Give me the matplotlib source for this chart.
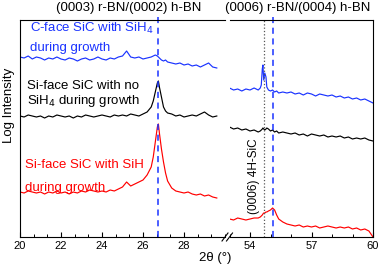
import matplotlib.pyplot as plt
import numpy as np
from matplotlib.ticker import MultipleLocator
from matplotlib.lines import Line2D

plt.rcParams['font.family'] = ['Liberation Sans', 'DejaVu Sans']

# --- data (log intensity, arbitrary units) ---
x_left = [20.0, 20.2, 20.4, 20.6, 20.8, 21.0, 21.2, 21.4, 21.6, 21.8,
          22.0, 22.2, 22.4, 22.6, 22.8, 23.0, 23.2, 23.4, 23.6, 23.8,
          24.0, 24.2, 24.4, 24.6, 24.8, 25.0, 25.2, 25.4, 25.6, 25.8, 26.0,
          26.2, 26.4, 26.5, 26.6, 26.7, 26.75, 26.8, 26.9, 27.0, 27.1, 27.2, 27.4, 27.6,
          27.8, 28.0, 28.2, 28.4, 28.6, 28.8, 29.0, 29.2, 29.4, 29.6]

blue_left = [180, 179, 181, 178, 180, 179, 177, 179, 178, 180,
             178, 177, 179, 178, 176, 178, 179, 177, 178, 180,
             178, 177, 179, 178, 180, 181, 186, 180, 179, 180, 178,
             179, 180, 181, 182, 181, 180, 179, 177, 176, 177, 175, 174, 173,
             174, 172, 173, 171, 172, 170, 172, 174, 170, 169]

black_left = [121, 120, 122, 121, 120, 121, 119, 121, 120, 122,
              121, 120, 121, 119, 121, 120, 122, 121, 120, 121,
              122, 121, 120, 122, 121, 122, 121, 123, 122, 121, 123,
              125, 130, 136, 145, 154, 156, 150, 140, 130, 126, 124, 123, 121,
              122, 120, 121, 122, 121, 123, 125, 122, 120, 121]

red_left = [45, 44, 46, 45, 44, 45, 43, 45, 44, 46,
            44, 45, 43, 45, 44, 46, 45, 47, 46, 45,
            46, 45, 47, 46, 48, 50, 55, 51, 53, 55, 57,
            62, 70, 80, 95, 110, 113, 104, 88, 75, 64, 56, 49, 46,
            45, 44, 45, 43, 42, 43, 41, 42, 40, 39]

x_right = [53.0, 53.2, 53.4, 53.6, 53.8, 54.0, 54.2, 54.4,
           54.5, 54.55, 54.6, 54.63, 54.67, 54.72, 54.78, 54.82, 54.9, 55.0,
           55.1, 55.2, 55.3, 55.4, 55.6,
           55.8, 56.0, 56.2, 56.4, 56.6, 56.8, 57.0, 57.2, 57.4, 57.6, 57.8,
           58.0, 58.2, 58.4, 58.6, 58.8, 59.0, 59.2, 59.4, 59.6, 59.8, 60.0]

blue_right = [149, 147, 148, 146, 148, 147, 149, 147,
              149, 152, 168, 172, 157, 164, 160, 150, 147, 146,
              147, 145, 146, 144, 145,
              144, 145, 143, 144, 142, 144, 143, 141, 143, 142, 141,
              142, 140, 141, 139, 140, 138, 139, 137, 138, 136, 134]

black_right = [110, 108, 109, 107, 108, 106, 107, 105,
               106, 107, 108, 109, 108, 107, 108, 109, 108, 106,
               107, 105, 106, 104, 105,
               104, 103, 104, 102, 103, 101, 103, 102, 101, 102, 100,
               101, 100, 101, 99, 100, 98, 99, 98, 99, 97, 96]

red_right = [18, 17, 19, 18, 17, 18, 19, 19,
             20, 21, 22, 23, 24, 24, 25, 25, 26, 27,
             29, 27, 22, 18, 15,
             13, 12, 11, 12, 10, 11, 10, 11, 9, 10, 11,
             10, 9, 10, 9, 10, 8, 9, 7, 8, 6, 0]

left_ticks = [20, 22, 24, 26, 28]
right_ticks = [54, 57, 60]

bn_low = 26.75     # (0003) r-BN/(0002) h-BN
bn_high = 55.14    # (0006) r-BN/(0004) h-BN
sic_peak = 54.68   # (0006) 4H-SiC

BLUE = '#1a33ff'
W, H = 379, 269

fig = plt.figure(figsize=(W / 100, H / 100), dpi=100)
ax1 = fig.add_axes([20 / W, 1 - 237 / H, 205 / W, 217.5 / H])
ax2 = fig.add_axes([229.5 / W, 1 - 237 / H, 143.5 / W, 217.5 / H])

for ax, xs, series in [(ax1, x_left, (blue_left, black_left, red_left)),
                       (ax2, x_right, (blue_right, black_right, red_right))]:
    for ys, c in zip(series, (BLUE, 'black', 'red')):
        ax.plot(xs, ys, color=c, lw=0.85)
    ax.set_ylim(0, 217.5)
    ax.set_yticks([])
    ax.tick_params(axis='x', direction='in', length=3.5, width=0.8,
                   labelsize=8, pad=3, top=False)
    ax.tick_params(axis='x', which='minor', direction='in', length=2.5,
                   width=0.7, top=False)
    for s in ax.spines.values():
        s.set_linewidth(0.8)

ax1.set_xlim(20, 30)
ax1.set_xticks(left_ticks)
ax1.xaxis.set_minor_locator(MultipleLocator(2 / 3))
ax1.spines['right'].set_visible(False)

ax2.set_xlim(53, 60)
ax2.set_xticks(right_ticks)
ax2.xaxis.set_minor_locator(MultipleLocator(1))
ax2.spines['left'].set_visible(False)

# reference lines
ax1.plot([bn_low, bn_low], [0, 1.03], transform=ax1.get_xaxis_transform(),
         color=BLUE, ls=(0, (4, 3)), lw=1.1, clip_on=False)
ax2.plot([bn_high, bn_high], [0, 1.03], transform=ax2.get_xaxis_transform(),
         color=BLUE, ls=(0, (4, 3)), lw=1.1, clip_on=False)
ax2.axvline(sic_peak, color='#555555', ls=':', lw=0.9)

ax2.text(54.2, 0.28, '(0006) 4H-SiC', transform=ax2.get_xaxis_transform(),
         rotation=90, ha='center', va='center', fontsize=8.5)

# top peak labels
fig.text(128.5 / W, 1 - 8 / H, '(0003) r-BN/(0002) h-BN', ha='center',
         va='center', fontsize=9.5)
fig.text(298 / W, 1 - 8 / H, '(0006) r-BN/(0004) h-BN', ha='center',
         va='center', fontsize=9.5)

# sample labels
fs = 9.5
fig.text(30 / W, 1 - 28 / H, 'C-face SiC with SiH$_4$', color=BLUE,
         fontsize=fs, va='center')
fig.text(30 / W, 1 - 48 / H, 'during growth', color=BLUE, fontsize=fs, va='center')
fig.text(27 / W, 1 - 86 / H, 'Si-face SiC with no', color='black',
         fontsize=fs, va='center')
fig.text(27 / W, 1 - 101 / H, 'SiH$_4$ during growth', color='black',
         fontsize=fs, va='center')
fig.text(25 / W, 1 - 165 / H, 'Si-face SiC with SiH', color='red',
         fontsize=fs, va='center')
fig.text(25 / W, 1 - 188 / H, 'during growth', color='red', fontsize=fs, va='center')

fig.text(9 / W, 1 - 105 / H, 'Log Intensity', rotation=90, ha='center',
         va='center', fontsize=9.5)
fig.text(215 / W, 1 - 258 / H, '2θ (°)', ha='center', va='center', fontsize=9.5)

# axis break marks
for dx in (0, 4.5):
    fig.add_artist(Line2D([(222 + dx) / W, (228 + dx) / W],
                          [1 - 241 / H, 1 - 233 / H], color='black', lw=0.8))

fig.savefig('out.png', dpi=100)
